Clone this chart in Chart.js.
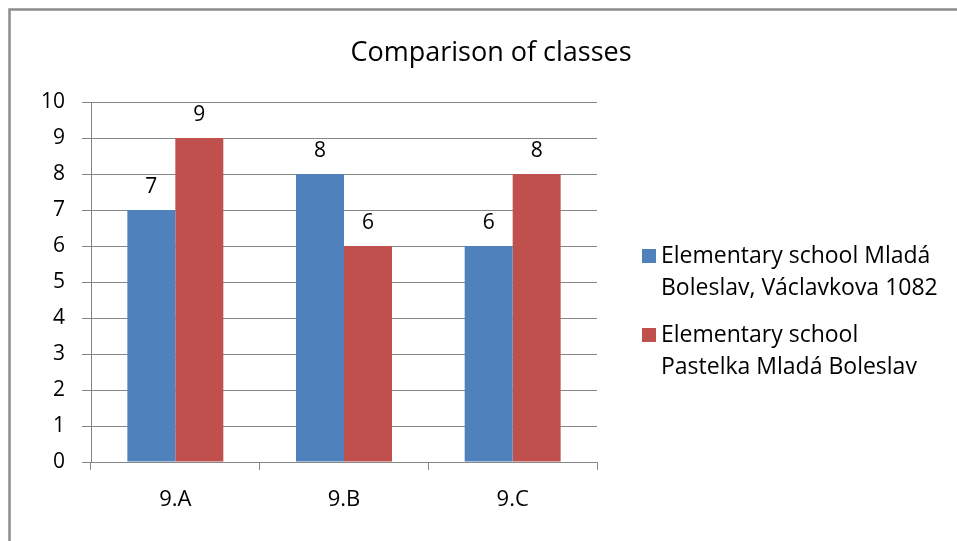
<!DOCTYPE html>
<html>
<head>
<meta charset="utf-8">
<script src="https://cdn.jsdelivr.net/npm/chart.js@4/dist/chart.umd.min.js"></script>
<style>
  html, body { margin: 0; padding: 0; background: #fff; }
  #wrap { width: 957px; height: 541px; position: relative; }
</style>
</head>
<body>
<div id="wrap"><canvas id="c" width="957" height="541"></canvas></div>
<script>
// Chart content
const chartTitle = 'Comparison of classes';
const classes = ['9.A', '9.B', '9.C'];
const seriesNames = [
  ['Elementary school Mladá', 'Boleslav, Václavkova 1082'],
  ['Elementary school', 'Pastelka Mladá Boleslav']
];
const schoolMladaBoleslav = [7, 8, 6];
const schoolPastelka = [9, 6, 8];
const yTicks = [0, 1, 2, 3, 4, 5, 6, 7, 8, 9, 10];

const FONT = '"Open Sans", sans-serif';
const GRID = '#868686';
const COLORS = ['#4F81BD', '#C0504D'];

// Frame, title, value labels and the wrapped legend
const decorations = {
  id: 'decorations',
  beforeDraw(chart) {
    const ctx = chart.ctx;
    ctx.save();
    ctx.fillStyle = '#fff';
    ctx.fillRect(0, 0, chart.width, chart.height);
    ctx.strokeStyle = '#8c8c8c';
    ctx.lineWidth = 2.5;
    ctx.beginPath();
    ctx.moveTo(9.5, chart.height);
    ctx.lineTo(9.5, 9.5);
    ctx.lineTo(chart.width, 9.5);
    ctx.stroke();
    ctx.restore();
  },
  afterDraw(chart) {
    const ctx = chart.ctx;
    ctx.save();
    ctx.fillStyle = '#000';
    // title
    ctx.font = '27px ' + FONT;
    ctx.textAlign = 'center';
    ctx.textBaseline = 'alphabetic';
    ctx.fillText(chartTitle, 491, 61);
    // value labels above bars
    ctx.font = '21px ' + FONT;
    chart.data.datasets.forEach((ds, di) => {
      const meta = chart.getDatasetMeta(di);
      meta.data.forEach((bar, i) => {
        ctx.fillText(String(ds.data[i]), bar.x, bar.y - 17);
      });
    });
    // legend
    ctx.font = '23px ' + FONT;
    ctx.textAlign = 'left';
    const lx = 642, tx = 661;
    let base = 263;
    chart.data.datasets.forEach((ds, di) => {
      ctx.fillStyle = ds.backgroundColor;
      ctx.fillRect(lx, base - 14, 14, 14);
      ctx.fillStyle = '#000';
      seriesNames[di].forEach((line, li) => {
        ctx.fillText(line, tx, base + li * 32);
      });
      base += 79;
    });
    ctx.restore();
  }
};

new Chart(document.getElementById('c'), {
  type: 'bar',
  data: {
    labels: classes,
    datasets: [
      { label: seriesNames[0].join(' '), data: schoolMladaBoleslav, backgroundColor: COLORS[0] },
      { label: seriesNames[1].join(' '), data: schoolPastelka, backgroundColor: COLORS[1] }
    ]
  },
  options: {
    responsive: false,
    animation: false,
    devicePixelRatio: 1,
    layout: { padding: { top: 102, right: 360, left: 0, bottom: 0 } },
    plugins: {
      legend: { display: false },
      title: { display: false },
      tooltip: { enabled: false }
    },
    datasets: {
      bar: { categoryPercentage: 0.569, barPercentage: 1.0 }
    },
    scales: {
      x: {
        afterFit(scale) { scale.height = 79; },
        grid: { drawOnChartArea: false, drawTicks: true, tickLength: 8, color: GRID, lineWidth: 1 },
        border: { color: GRID, width: 1 },
        ticks: { color: '#000', font: { family: FONT, size: 22 }, padding: 17 }
      },
      y: {
        min: 0,
        max: 10,
        afterFit(scale) { scale.width = 91; },
        afterBuildTicks(scale) { scale.ticks = yTicks.map(v => ({ value: v })); },
        grid: { color: GRID, lineWidth: 1, tickLength: 9 },
        border: { color: GRID, width: 1 },
        ticks: { color: '#000', font: { family: FONT, size: 21 }, padding: 17 }
      }
    }
  },
  plugins: [decorations]
});
</script>
</body>
</html>
